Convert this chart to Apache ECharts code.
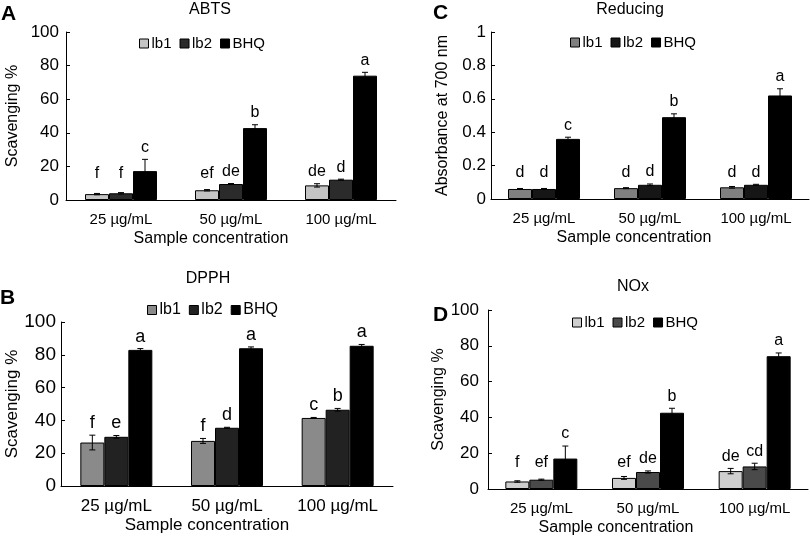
<!DOCTYPE html>
<html>
<head>
<meta charset="utf-8">
<script src="https://cdn.jsdelivr.net/npm/echarts@6/dist/echarts.min.js"></script>
<style>
  html, body { margin: 0; padding: 0; background: #fff; }
  #chart { width: 810px; height: 540px; }
</style>
</head>
<body>
<div id="chart"></div>
<script>
// 类别与系列
const categories = ['25 µg/mL', '50 µg/mL', '100 µg/mL'];
const seriesNames = ['lb1', 'lb2', 'BHQ'];

// A - ABTS
const abtsLb1 = [3.5, 5.8, 8.7];
const abtsLb2 = [4.0, 9.5, 12.1];
const abtsBhq = [17.2, 42.8, 74.0];
const abtsErrLb1 = [0.4, 0.4, 1.0];
const abtsErrLb2 = [0.4, 0.3, 0.3];
const abtsErrBhq = [7.0, 2.0, 2.0];
const abtsLetters = [['f', 'ef', 'de'], ['f', 'de', 'd'], ['c', 'b', 'a']];

// B - DPPH
const dpphLb1 = [26.5, 27.5, 41.5];
const dpphLb2 = [30.0, 35.5, 46.5];
const dpphBhq = [83.0, 84.0, 85.5];
const dpphErrLb1 = [4.5, 1.5, 0.3];
const dpphErrLb2 = [0.8, 0.3, 0.8];
const dpphErrBhq = [0.8, 0.8, 0.8];
const dpphLetters = [['f', 'f', 'c'], ['e', 'd', 'b'], ['a', 'a', 'a']];

// C - Reducing
const redLb1 = [0.06, 0.065, 0.07];
const redLb2 = [0.06, 0.085, 0.085];
const redBhq = [0.36, 0.49, 0.62];
const redErrLb1 = [0.003, 0.003, 0.005];
const redErrLb2 = [0.003, 0.005, 0.003];
const redErrBhq = [0.01, 0.02, 0.04];
const redLetters = [['d', 'd', 'd'], ['d', 'd', 'd'], ['c', 'b', 'a']];

// D - NOx
const noxLb1 = [4.2, 6.2, 10.0];
const noxLb2 = [5.2, 9.5, 12.6];
const noxBhq = [17.0, 42.6, 74.2];
const noxErrLb1 = [0.4, 0.8, 1.5];
const noxErrLb2 = [0.3, 0.6, 1.8];
const noxErrBhq = [7.0, 2.5, 1.8];
const noxLetters = [['f', 'ef', 'de'], ['ef', 'de', 'cd'], ['c', 'b', 'a']];

const FONT = '"Liberation Sans", Arial, sans-serif';

// 四个面板的布局
const panels = [
  {
    tag: 'A', tagPos: [1, 4], title: 'ABTS', titlePos: [210, 2],
    grid: { left: 66, top: 32, width: 330, height: 168 },
    max: 100, interval: 20, yName: 'Scavenging %', yNameGap: 45, labelMargin: 7,
    xNameShift: 40, legendPos: [139, 36], yFont: 17, xFont: 15, nameFont: 16, legendFont: 15,
    colors: ['#c4c4c4', '#2b2b2b', '#000000'],
    values: [abtsLb1, abtsLb2, abtsBhq],
    errors: [abtsErrLb1, abtsErrLb2, abtsErrBhq],
    letters: abtsLetters
  },
  {
    tag: 'C', tagPos: [433, 3], title: 'Reducing', titlePos: [630, 2],
    grid: { left: 491, top: 32, width: 318, height: 167 },
    max: 1, interval: 0.2, yName: 'Absorbance at 700 nm', yNameGap: 40, labelMargin: 5,
    xNameShift: 32, legendPos: [570, 35], yFont: 17, xFont: 15, nameFont: 16, legendFont: 15,
    colors: ['#808080', '#161616', '#000000'],
    values: [redLb1, redLb2, redBhq],
    errors: [redErrLb1, redErrLb2, redErrBhq],
    letters: redLetters
  },
  {
    tag: 'B', tagPos: [0, 288], title: 'DPPH', titlePos: [208, 271],
    grid: { left: 61, top: 322, width: 332, height: 164 },
    max: 100, interval: 20, yName: 'Scavenging %', yNameGap: 39, labelMargin: 5,
    xNameShift: 40, legendPos: [147, 302], yFont: 19, xFont: 17, nameFont: 17, legendFont: 16,
    colors: ['#8a8a8a', '#222222', '#000000'],
    values: [dpphLb1, dpphLb2, dpphBhq],
    errors: [dpphErrLb1, dpphErrLb2, dpphErrBhq],
    letters: dpphLetters
  },
  {
    tag: 'D', tagPos: [433, 305], title: 'NOx', titlePos: [633, 279],
    grid: { left: 488, top: 310, width: 320, height: 179 },
    max: 100, interval: 20, yName: 'Scavenging %', yNameGap: 38, labelMargin: 9,
    xNameShift: 64, legendPos: [572, 315], yFont: 17, xFont: 15, nameFont: 16, legendFont: 15,
    colors: ['#cfcfcf', '#4a4a4a', '#000000'],
    values: [noxLb1, noxLb2, noxBhq],
    errors: [noxErrLb1, noxErrLb2, noxErrBhq],
    letters: noxLetters
  }
];

const BAR_W = 24;
const grids = [], xAxes = [], yAxes = [], series = [], titles = [], legends = [];

panels.forEach((p, i) => {
  grids.push(p.grid);
  xAxes.push({
    type: 'category', gridIndex: i, data: categories,
    name: 'Sample concentration', nameLocation: 'middle', nameGap: 31,
    nameTextStyle: { fontSize: p.nameFont, color: '#000', fontFamily: FONT, padding: [0, p.xNameShift, 0, 0] },
    axisLine: { lineStyle: { color: '#000', width: 1 } },
    axisTick: { inside: true, length: 4, lineStyle: { color: '#000' } },
    axisLabel: { fontSize: p.xFont, color: '#000', fontFamily: FONT, margin: 12 }
  });
  yAxes.push({
    type: 'value', gridIndex: i, min: 0, max: p.max, interval: p.interval,
    name: p.yName, nameLocation: 'middle', nameGap: p.yNameGap,
    nameTextStyle: { fontSize: p.nameFont, color: '#000', fontFamily: FONT },
    axisLine: { show: true, lineStyle: { color: '#000', width: 1 } },
    axisTick: { show: true, inside: true, length: 4, lineStyle: { color: '#000' } },
    axisLabel: { fontSize: p.yFont, color: '#000', fontFamily: FONT, margin: p.labelMargin },
    splitLine: { show: false }
  });
  titles.push({
    text: p.title, left: p.titlePos[0], top: p.titlePos[1], textAlign: 'center', padding: 0,
    textStyle: { fontSize: 16, fontWeight: 'normal', color: '#000', fontFamily: FONT }
  });
  titles.push({
    text: p.tag, left: p.tagPos[0], top: p.tagPos[1], padding: 0,
    textStyle: { fontSize: 21, fontWeight: 'bold', color: '#000', fontFamily: FONT }
  });
  legends.push({
    left: p.legendPos[0], top: p.legendPos[1], padding: 0,
    icon: 'rect', itemWidth: 9, itemHeight: 9, itemGap: 8, selectedMode: false,
    textStyle: { fontSize: p.legendFont, color: '#000', fontFamily: FONT, padding: [0, 0, 0, -2] },
    data: seriesNames.map((n, j) => ({
      name: n,
      itemStyle: { color: p.colors[j], borderColor: '#000', borderWidth: 1 }
    }))
  });

  seriesNames.forEach((n, j) => {
    series.push({
      name: n, type: 'bar', xAxisIndex: i, yAxisIndex: i,
      barWidth: BAR_W, barGap: '0%',
      itemStyle: { color: p.colors[j], borderColor: '#000', borderWidth: 1 },
      data: p.values[j]
    });
  });

  // 误差线 + 显著性字母
  const axisBottom = p.grid.top + p.grid.height;
  seriesNames.forEach((n, j) => {
    series.push({
      type: 'custom', xAxisIndex: i, yAxisIndex: i, z: 5, silent: true,
      encode: { x: 0, y: 1 },
      data: p.values[j].map((v, k) => [k, v, p.errors[j][k]]),
      renderItem: (params, api) => {
        const k = api.value(0), v = api.value(1), e = api.value(2);
        const dx = (j - 1) * BAR_W;
        const hi = api.coord([k, v + e]);
        const lo = api.coord([k, v - e]);
        const x = hi[0] + dx;
        const ly = Math.min(hi[1] - 12, axisBottom - 26);
        const st = { stroke: '#000', lineWidth: 1 };
        return {
          type: 'group',
          children: [
            { type: 'line', shape: { x1: x, y1: hi[1], x2: x, y2: lo[1] }, style: st },
            { type: 'line', shape: { x1: x - 3, y1: hi[1], x2: x + 3, y2: hi[1] }, style: st },
            { type: 'line', shape: { x1: x - 3, y1: lo[1], x2: x + 3, y2: lo[1] }, style: st },
            {
              type: 'text', x: x, y: ly,
              style: {
                text: p.letters[j][params.dataIndex], fill: '#000',
                font: (p.xFont + 1) + 'px ' + FONT, align: 'center', verticalAlign: 'middle'
              }
            }
          ]
        };
      }
    });
  });
});

const myChart = echarts.init(document.getElementById('chart'));
myChart.setOption({
  animation: false,
  textStyle: { fontFamily: FONT },
  title: titles,
  legend: legends,
  grid: grids,
  xAxis: xAxes,
  yAxis: yAxes,
  series: series
});
</script>
</body>
</html>
